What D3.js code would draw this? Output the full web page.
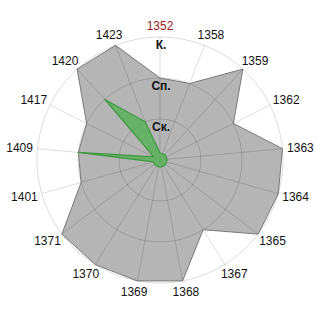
<!DOCTYPE html>
<html>
<head>
<meta charset="utf-8">
<script src="https://cdn.jsdelivr.net/npm/d3@7"></script>
<style>
  html, body { margin: 0; padding: 0; background: #fff; }
  svg { display: block; font-family: "Liberation Sans", Arial, sans-serif; }
</style>
</head>
<body>
<div id="chart"></div>
<script>
// categories around the circle, clockwise from the top
var categories = ['1352', '1358', '1359', '1362', '1363', '1364', '1365', '1367', '1368',
  '1369', '1370', '1371', '1401', '1409', '1417', '1420', '1423'];
// radial tick labels (value 1, 2, 3)
var levelLabels = ['Ск.', 'Сп.', 'К.'];
var levels = [1, 2, 3];

var grayValues = [2, 2, 3, 2, 3, 3, 3, 2, 3, 3, 3, 3, 2, 2, 2, 3, 3];
var greenValues = [0.17, 0.17, 0.17, 0.17, 0.17, 0.17, 0.17, 0.17, 0.17,
  0.17, 0.17, 0.17, 0.17, 2, 0.17, 2, 1];

var width = 320, height = 320;
var cx = 160, cy = 160, outerR = 123;

var svg = d3.select('#chart').append('svg')
  .attr('width', width)
  .attr('height', height);

var g = svg.append('g').attr('transform', 'translate(' + cx + ',' + cy + ')');

var angle = d3.scalePoint()
  .domain(categories.concat(['__end']))
  .range([0, 2 * Math.PI]);

var r = d3.scaleLinear().domain([0, 3]).range([0, outerR]);

function area(values) {
  return d3.lineRadial()
    .angle(function (d, i) { return angle(categories[i]); })
    .radius(function (d) { return r(d); })
    .curve(d3.curveLinearClosed)(values);
}

// gray series first, grid goes over it
g.append('path')
  .attr('d', area(grayValues))
  .attr('fill', '#b5b5b5');

var grid = g.append('g')
  .attr('fill', 'none')
  .attr('stroke', 'rgba(0,0,0,0.14)')
  .attr('stroke-width', 1);

grid.selectAll('line')
  .data(categories)
  .enter().append('line')
  .attr('x1', 0).attr('y1', 0)
  .attr('x2', function (d) { return Math.sin(angle(d)) * outerR; })
  .attr('y2', function (d) { return -Math.cos(angle(d)) * outerR; });

grid.selectAll('circle')
  .data(levels)
  .enter().append('circle')
  .attr('r', function (d) { return r(d); });

g.append('path')
  .attr('d', area(grayValues))
  .attr('fill', 'none')
  .attr('stroke', '#7a7a7a')
  .attr('stroke-width', 1);

g.append('path')
  .attr('d', area(greenValues))
  .attr('fill', '#5fb05f')
  .attr('fill-opacity', 0.9)
  .attr('stroke', '#3f9a3f')
  .attr('stroke-width', 1.2)
  .attr('stroke-linejoin', 'round');

// category labels
g.selectAll('text.cat')
  .data(categories)
  .enter().append('text')
  .attr('class', 'cat')
  .attr('x', function (d) {
    var a = angle(d);
    return Math.sin(a) * 134 + Math.sin(a) * 7;
  })
  .attr('y', function (d) { return -Math.cos(angle(d)) * 134; })
  .attr('text-anchor', 'middle')
  .attr('dominant-baseline', 'central')
  .attr('font-size', 12)
  .attr('fill', function (d, i) { return i === 0 ? '#9b1b1b' : '#111'; })
  .text(function (d) { return d; });

// level labels
g.selectAll('text.lvl')
  .data(levels)
  .enter().append('text')
  .attr('class', 'lvl')
  .attr('x', 1)
  .attr('y', function (d) { return -r(d) + 8; })
  .attr('text-anchor', 'middle')
  .attr('dominant-baseline', 'central')
  .attr('font-size', 12)
  .attr('font-weight', 'bold')
  .attr('fill', '#111')
  .text(function (d, i) { return levelLabels[i]; });
</script>
</body>
</html>
